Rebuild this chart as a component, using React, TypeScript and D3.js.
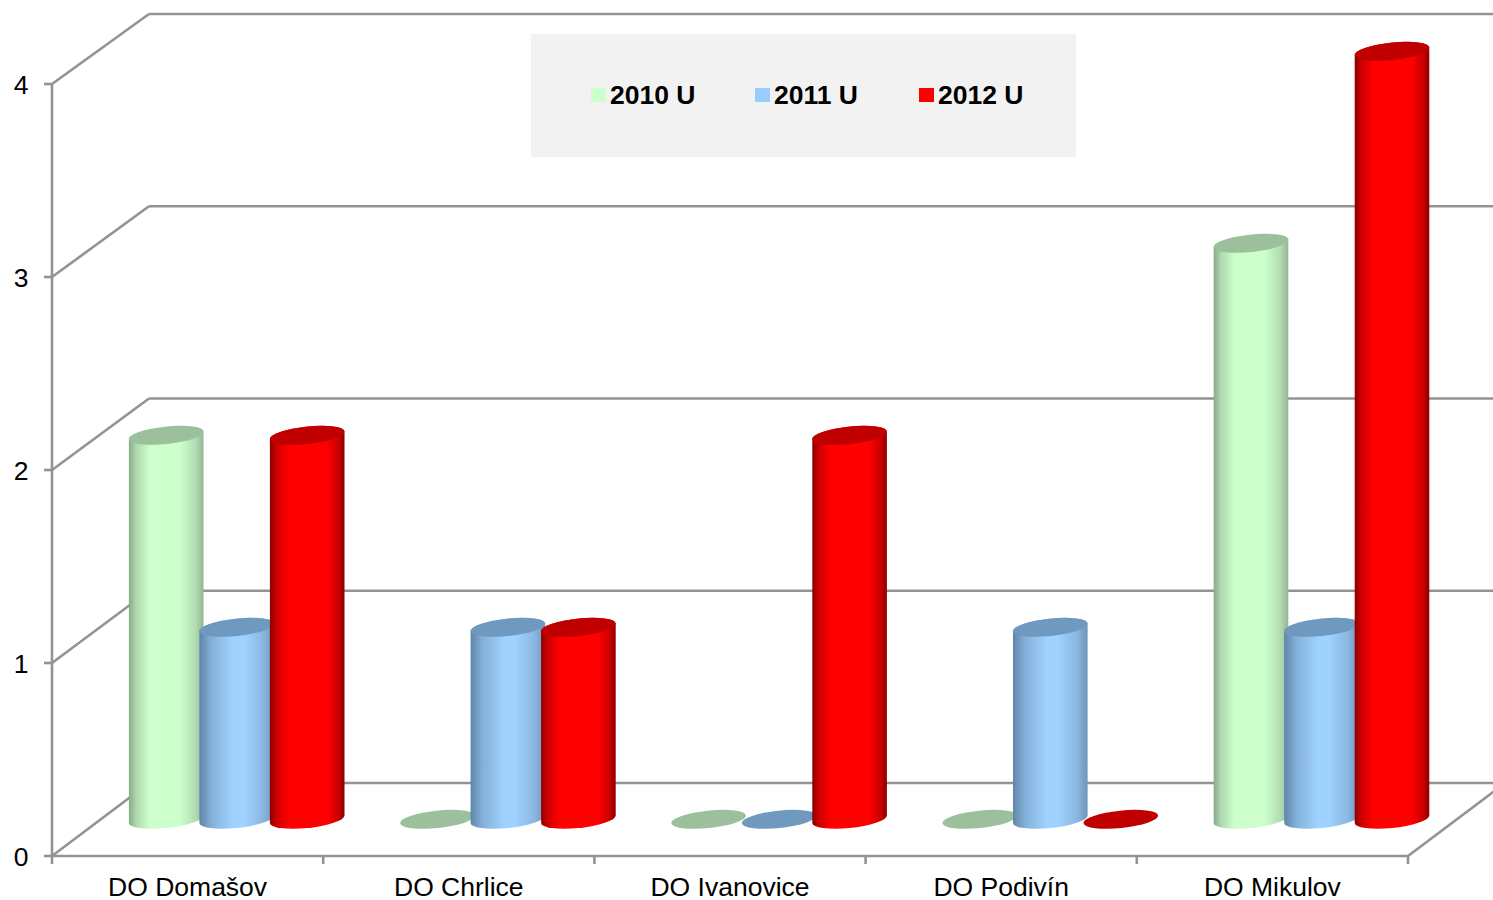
import React from "react";
import * as d3 from "d3";

const categories = ["DO Domašov", "DO Chrlice", "DO Ivanovice", "DO Podivín", "DO Mikulov"];
const seriesNames = ["2010 U", "2011 U", "2012 U"];
const values2010 = [2, 0, 0, 0, 3];
const values2011 = [1, 1, 0, 1, 1];
const values2012 = [2, 1, 2, 0, 4];
const yTicks = [0, 1, 2, 3, 4];

const seriesValues = [values2010, values2011, values2012];
const styles = [
  { main: "#ccffcc", edgeL: "#86a886", edgeR: "#94b494", cap: "#9cc09c", a: 0.28, b: 0.68 },
  { main: "#9fd2ff", edgeL: "#5f84a8", edgeR: "#6e93b8", cap: "#7099c0", a: 0.45, b: 0.6 },
  { main: "#ff0000", edgeL: "#8a0000", edgeR: "#8a0000", cap: "#c00000", a: 0.25, b: 0.76 },
];
const swatch = ["#ccffcc", "#99ccff", "#ff0000"];

const W = 1493, H = 900;
const DX = 97;
const FONT = "'Liberation Sans', Arial, sans-serif";
const LINE = "#939393";

const xBand = d3.scaleBand<string>().domain(categories).range([52, 1408]);
const xSeries = d3.scalePoint<string>().domain(seriesNames).range([-70.5, 70.5]);
const yFront = d3.scaleLinear().domain([0, 4]).range([856, 84]);
const yBack = d3.scaleLinear().domain([0, 4]).range([783, 14]);
const heightScale = d3.scaleLinear().domain([0, 4]).range([0, 768]);

const RX = 37.5, RY = 8.7, TILT = -6;
const th = (TILT * Math.PI) / 180;
const tExt = Math.atan2(-RY * Math.sin(th), RX * Math.cos(th));
const ex = RX * Math.cos(tExt) * Math.cos(th) - RY * Math.sin(tExt) * Math.sin(th);
const ey = RX * Math.cos(tExt) * Math.sin(th) + RY * Math.sin(tExt) * Math.cos(th);

function Cylinder({ cx, base, h, s, id }: { cx: number; base: number; h: number; s: number; id: string }) {
  const st = styles[s];
  const top = base - h;
  const arc = `A${RX} ${RY} ${TILT}`;
  const body =
    `M${cx - ex} ${top - ey}` +
    `L${cx - ex} ${base - ey}` +
    `${arc} 0 0 ${cx + ex} ${base + ey}` +
    `L${cx + ex} ${top + ey}` +
    `${arc} 0 0 ${cx - ex} ${top - ey}Z`;
  return (
    <g>
      {h > 0 && <path d={body} fill={`url(#${id})`} />}
      <ellipse cx={cx} cy={top} rx={RX} ry={RY} transform={`rotate(${TILT} ${cx} ${top})`} fill={st.cap} />
    </g>
  );
}

export default function App() {
  const baseY = (yFront(0) + yBack(0)) / 2 - 0.2;
  const groupCenter = (c: string) => (xBand(c) as number) + xBand.bandwidth() / 2 + DX / 2 + 0.6;
  const edges = [...categories.map((c) => xBand(c) as number), 1408];
  const legendX = [591, 755, 919];
  return (
    <svg
      width={W}
      height={H}
      viewBox={`0 0 ${W} ${H}`}
      style={{ position: "absolute", left: 0, top: 0, display: "block", background: "#fff" }}
    >
      <defs>
        {categories.map((c, ci) =>
          seriesNames.map((n, si) => {
            const cx = groupCenter(c) + (xSeries(n) as number);
            const st = styles[si];
            return (
              <linearGradient
                key={n + c}
                id={`g${si}-${ci}`}
                gradientUnits="userSpaceOnUse"
                x1={cx - RX}
                x2={cx + RX}
                y1={0}
                y2={0}
              >
                <stop offset="0" stopColor={st.edgeL} />
                <stop offset={st.a * 0.35} stopColor={d3.interpolateRgb(st.edgeL, st.main)(0.55)} />
                <stop offset={st.a} stopColor={st.main} />
                <stop offset={st.b} stopColor={st.main} />
                <stop offset={1 - (1 - st.b) * 0.35} stopColor={d3.interpolateRgb(st.edgeR, st.main)(0.55)} />
                <stop offset="1" stopColor={st.edgeR} />
              </linearGradient>
            );
          })
        )}
      </defs>

      {/* walls */}
      <g stroke={LINE} strokeWidth={2.6} fill="none">
        {yTicks.map((t) => (
          <g key={t}>
            <line x1={149} x2={W} y1={yBack(t)} y2={yBack(t)} />
            <line x1={52} x2={149} y1={yFront(t)} y2={yBack(t)} />
            <line x1={44} x2={52} y1={yFront(t)} y2={yFront(t)} />
          </g>
        ))}
        <line x1={52} x2={52} y1={yFront(4)} y2={yFront(0)} />
        <line x1={52} x2={1408} y1={yFront(0)} y2={yFront(0)} />
        <line x1={1408} x2={1408 + DX} y1={yFront(0)} y2={yBack(0)} />
        {edges.map((x) => (
          <line key={x} x1={x} x2={x} y1={yFront(0)} y2={yFront(0) + 8} />
        ))}
      </g>

      {/* legend */}
      <rect x={531} y={34} width={545} height={123} fill="#f2f2f2" />
      {seriesNames.map((n, i) => (
        <g key={n}>
          <rect x={legendX[i]} y={88} width={15} height={14} fill={swatch[i]} />
          <text x={legendX[i] + 19} y={104} fontFamily={FONT} fontSize={26.5} fontWeight="bold" fill="#000">
            {n}
          </text>
        </g>
      ))}

      {/* cylinders */}
      {categories.map((c, ci) =>
        seriesNames.map((n, si) => (
          <Cylinder
            key={n + c}
            cx={groupCenter(c) + (xSeries(n) as number)}
            base={baseY}
            h={heightScale(seriesValues[si][ci])}
            s={si}
            id={`g${si}-${ci}`}
          />
        ))
      )}

      {/* labels */}
      {yTicks.map((t) => (
        <text key={t} x={28.5} y={yFront(t) + 10} textAnchor="end" fontFamily={FONT} fontSize={26.5} fill="#000">
          {t}
        </text>
      ))}
      {categories.map((c) => (
        <text
          key={c}
          x={(xBand(c) as number) + xBand.bandwidth() / 2}
          y={896}
          textAnchor="middle"
          fontFamily={FONT}
          fontSize={26.5}
          fill="#000"
        >
          {c}
        </text>
      ))}
    </svg>
  );
}
